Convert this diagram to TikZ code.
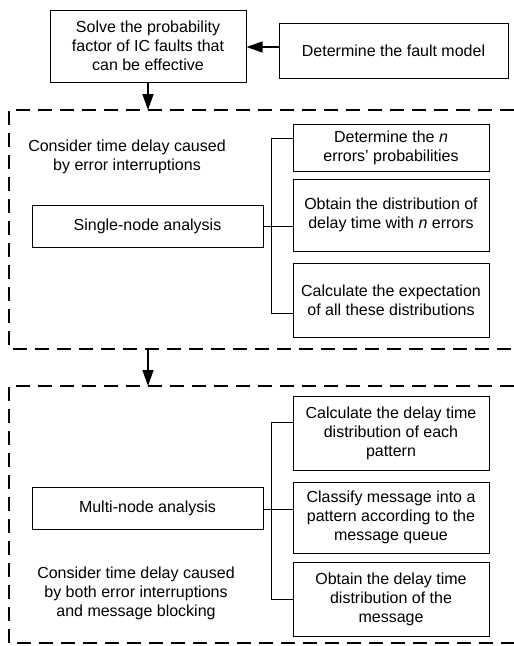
\documentclass[tikz,border=0pt]{standalone}
\usepackage{fontspec}
\setmainfont{Liberation Sans}
\usetikzlibrary{arrows.meta,calc}
\begin{document}
\begin{tikzpicture}[x=1pt,y=-1pt,
  box/.style={draw, line width=1pt, inner sep=0pt, align=center,
    font=\fontsize{16}{19}\selectfont},
  note/.style={inner sep=0pt, align=center, font=\fontsize{16}{19}\selectfont},
  frame/.style={line width=1.4pt, dash pattern=on 14pt off 8pt},
  arr/.style={line width=1.3pt, -{Triangle[length=16pt,width=11pt]}},
  link/.style={line width=1pt}]
\useasboundingbox (0,0) rectangle (514,646);
% top
\node[box, minimum width=196pt, minimum height=72pt] (solve) at (148,46)
  {Solve the probability\\factor of IC faults that\\can be effective};
\node[box, minimum width=229pt, minimum height=55pt] (fault) at (393.5,50.5)
  {Determine the fault model};
\draw[arr] (fault.west |- 0,47) -- (solve.east |- 0,47);
% frame 1
\coordinate (f1tl) at (9,110);
\coordinate (f1bl) at (9,349);
\coordinate (f1tr) at (514,110);
\coordinate (f1br) at (514,349);
\draw[frame] (f1tr) -- (f1tl) -- (f1bl) -- (f1br);
\coordinate (f1in) at (148,110);
\coordinate (f1out) at (148,349);
\draw[arr] (solve.south) -- (f1in);
\node[note] (note1) at (127,156.5) {Consider time delay caused\\by error interruptions};
\node[box, minimum width=231pt, minimum height=42pt] (single) at (147.5,226) {Single-node analysis};
\node[box, minimum width=196pt, minimum height=47pt] (dn) at (391,147.5)
  {Determine the \textit{n}\\errors’ probabilities};
\node[box, minimum width=196pt, minimum height=72pt] (obt) at (391,215)
  {Obtain the distribution of\\delay time with \textit{n} errors};
\node[box, minimum width=196pt, minimum height=74pt] (calc) at (391,300)
  {Calculate the expectation\\of all these distributions};
\draw[link] ($(dn.west)+(0,-9.5)$) -- ++(-21,0) |- ($(calc.west)+(0,13)$);
\draw[link] (single.east) -- (single.east -| obt.west);
% frame 2
\coordinate (f2tl) at (9,386);
\coordinate (f2bl) at (9,643);
\coordinate (f2tr) at (514,386);
\coordinate (f2br) at (514,643);
\draw[frame] (f2tr) -- (f2tl) -- (f2bl) -- (f2br);
\coordinate (f2in) at (148,386);
\draw[arr] (f1out) -- (f2in);
\node[box, minimum width=231pt, minimum height=42pt] (multi) at (147.5,508) {Multi-node analysis};
\node[box, minimum width=196pt, minimum height=74pt] (cdt) at (391,433)
  {Calculate the delay time\\distribution of each\\pattern};
\node[box, minimum width=196pt, minimum height=71pt] (cls) at (391,517.5)
  {Classify message into a\\pattern according to the\\message queue};
\node[box, minimum width=196pt, minimum height=74pt] (odt) at (391,599)
  {Obtain the delay time\\distribution of the\\message};
\draw[link] ($(cdt.west)+(0,-11)$) -- ++(-21,0) |- (odt.west);
\draw[link] ($(multi.east)+(0,1)$) -- ($(multi.east -| cls.west)+(0,1)$);
\node[note] (note2) at (136,593.5) {Consider time delay caused\\by both error interruptions\\and message blocking};
\end{tikzpicture}
\end{document}
